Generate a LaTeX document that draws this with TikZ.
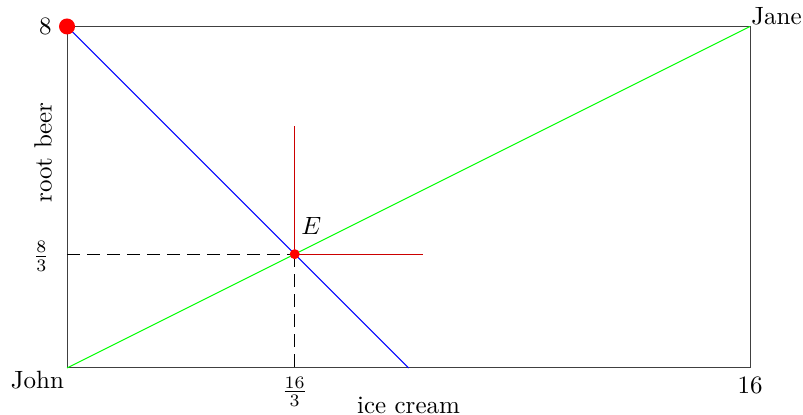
\documentclass[tikz,border=0pt]{standalone}
\begin{document}
\begin{tikzpicture}[x=0.6cm, y=0.6cm,
    edgebox/.style={draw=black!75, line width=0.4pt},
    budget/.style={blue, line width=0.4pt},
    contract/.style={green, line width=0.4pt},
    indiff/.style={red!80!black, line width=0.3pt},
    guide/.style={dash pattern=on 5pt off 3pt, line width=0.4pt},
    dot/.style={circle, fill=red, inner sep=0pt}]
  \useasboundingbox (-1.57,-1.1) rectangle (17.24,8.62);
  % corners of the box and the equilibrium
  \coordinate (john)   at (0,0);
  \coordinate (topl)   at (0,8);
  \coordinate (jane)   at (16,8);
  \coordinate (botr)   at (16,0);
  \coordinate (E)      at (16/3,8/3);
  \coordinate (bend)   at (8,0);
  \coordinate (rbaxis) at (0,8/3);
  \coordinate (icaxis) at (16/3,0);
  \coordinate (vup)    at (16/3,17/3);
  \coordinate (hright) at (25/3,8/3);
  \draw[edgebox] (john) rectangle (jane);
  \draw[budget] (topl) -- (bend);
  \draw[contract] (john) -- (jane);
  \draw[indiff] (E) -- (vup);
  \draw[indiff] (E) -- (hright);
  \draw[guide] (rbaxis) -- (E);
  \draw[guide] (E) -- (icaxis);
  \node[dot, minimum size=6.4pt] (endow) at (topl) {};
  \node[dot, minimum size=4pt] (eq) at (E) {};
  % labels
  \node[anchor=south west, inner sep=0.3pt] (janelbl) at (jane) {Jane};
  \node[anchor=north east, inner sep=1pt] (johnlbl) at (john) {John};
  \node[below] (sixteen) at (botr) {16};
  \node[anchor=east, inner sep=0pt] (eight) at (-0.35,8) {8};
  \node[anchor=east, inner sep=0pt] (eightthird) at (-0.4,8/3-0.05) {$\frac{8}{3}$};
  \node[below] (sixthird) at (icaxis) {$\frac{16}{3}$};
  \node (icecream) at (8,-0.87) {ice cream};
  \node[rotate=90] (rootbeer) at (-0.56,5.05) {root beer};
  \node (elbl) at (5.72,3.32) {$E$};
\end{tikzpicture}
\end{document}
